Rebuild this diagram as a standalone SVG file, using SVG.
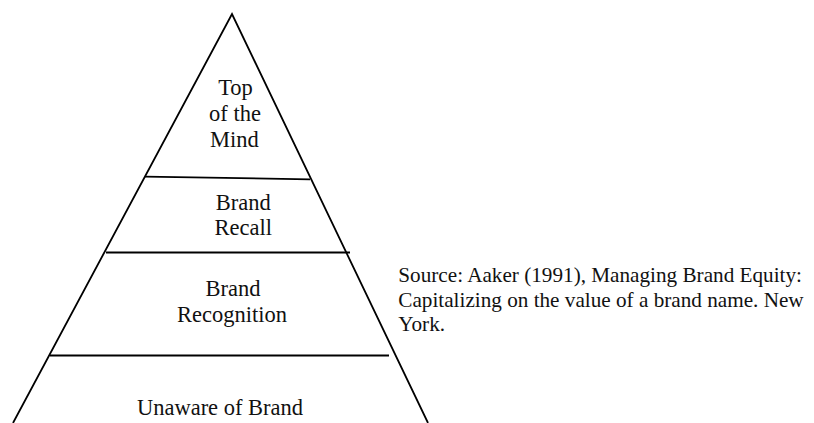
<svg xmlns="http://www.w3.org/2000/svg" width="814" height="423" viewBox="0 0 814 423">
  <style>
    .edge { stroke: #000; stroke-width: 1.8; fill: none; stroke-linecap: butt; }
    .lbl { font-family: "Liberation Serif", "Times New Roman", serif; font-size: 22.5px; fill: #111; text-anchor: middle; }
    .src { font-family: "Liberation Serif", "Times New Roman", serif; font-size: 21.2px; fill: #111; }
  </style>
  <rect width="814" height="423" fill="#fff"/>

  <!-- pyramid outline and level dividers -->
  <g id="connectors">
    <polyline class="edge" points="13,423 232,14 428,423"/>
    <line class="edge" x1="145" y1="176.7" x2="310" y2="179.3"/>
    <line class="edge" x1="106" y1="252.5" x2="350" y2="252.5"/>
    <line class="edge" x1="50" y1="355.5" x2="389" y2="355.5"/>
  </g>

  <g id="top-of-mind">
    <text class="lbl" x="235.5" y="94.5">Top</text>
    <text class="lbl" x="235" y="121">of the</text>
    <text class="lbl" x="234.5" y="146.5">Mind</text>
  </g>

  <g id="brand-recall">
    <text class="lbl" x="243.3" y="210">Brand</text>
    <text class="lbl" x="243.3" y="235">Recall</text>
  </g>

  <g id="brand-recognition">
    <text class="lbl" x="233" y="296">Brand</text>
    <text class="lbl" x="232" y="321.7">Recognition</text>
  </g>

  <g id="unaware">
    <text class="lbl" x="220" y="415">Unaware of Brand</text>
  </g>

  <g id="source">
    <text class="src" x="398.3" y="281.5">Source: Aaker (1991), Managing Brand Equity:</text>
    <text class="src" x="398.3" y="306.5">Capitalizing on the value of a brand name. New</text>
    <text class="src" x="398.3" y="331">York.</text>
  </g>
</svg>
